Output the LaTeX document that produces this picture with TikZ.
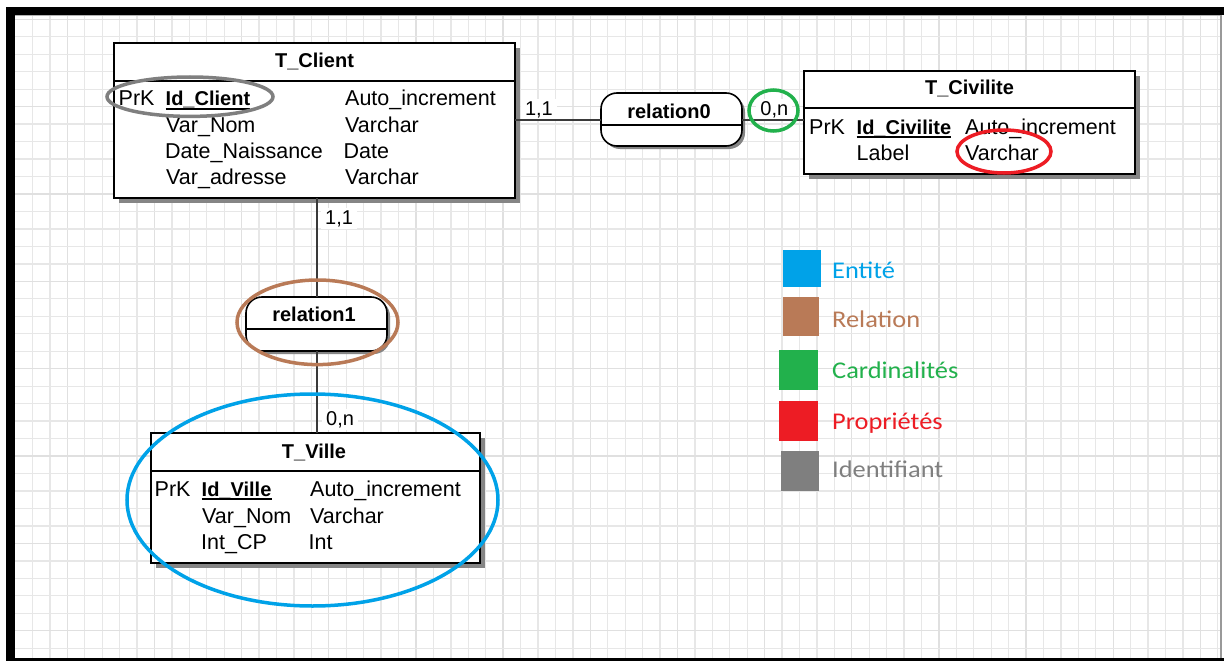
\documentclass[tikz,border=0pt]{standalone}
\usepackage{fontspec}
\setmainfont{Liberation Sans}
\newfontfamily\legendfont[FakeStretch=1.1]{Carlito}
\usetikzlibrary{shadows}

\definecolor{mcdblue}{HTML}{00A2E8}
\definecolor{mcdbrown}{HTML}{B97A57}
\definecolor{mcdgreen}{HTML}{22B14C}
\definecolor{mcdred}{HTML}{ED1C24}
\definecolor{mcdgray}{HTML}{7F7F7F}
\definecolor{gridlight}{HTML}{E7E7E7}
\definecolor{griddark}{HTML}{E0E0E0}
\definecolor{boxshadow}{HTML}{858585}
\definecolor{linkgray}{HTML}{3A3A3A}

\newcommand{\mcdattr}{\fontsize{21.5}{24}\selectfont}
\newcommand{\mcdbold}{\fontsize{20}{24}\selectfont\bfseries}
\newcommand{\mcdcard}{\fontsize{20}{24}\selectfont}
\newcommand{\mcdlegend}{\legendfont\fontsize{24}{28}\selectfont}

\tikzset{
  gridminor/.style={draw=gridlight, line width=1.3pt},
  gridmajor/.style={draw=griddark, line width=1.3pt},
  entitybox/.style={draw=black, line width=1.6pt, fill=white, inner sep=0pt, outer sep=0pt,
    general shadow={fill=boxshadow, shadow xshift=5pt, shadow yshift=-5pt}},
  relbox/.style={draw=black, line width=1.6pt, fill=white, rounded corners=16pt,
    inner sep=0pt, outer sep=0pt, minimum width=141pt, minimum height=53pt,
    general shadow={fill=boxshadow, shadow xshift=3pt, shadow yshift=-3pt}},
  sepline/.style={draw=black, line width=1.6pt},
  entitytitle/.style={inner sep=0pt, anchor=base, font=\mcdbold},
  attr/.style={inner sep=0pt, anchor=base west, font=\mcdattr},
  keyattr/.style={inner sep=0pt, anchor=base west, font=\mcdbold},
  uline/.style={draw=black, line width=1.8pt},
  card/.style={inner xsep=4pt, inner ysep=2pt, anchor=base west, fill=white, font=\mcdcard},
  link/.style={draw=linkgray, line width=2pt},
  hilite/.style={line width=3.5pt},
  legendtext/.style={inner sep=0pt, anchor=base west, font=\mcdlegend}
}

\begin{document}
\begin{tikzpicture}[x=1pt, y=-1pt]
\useasboundingbox (0,0) rectangle (1224,661);
\fill[white] (0,0) rectangle (1224,661);

% drawing-sheet grid
\foreach \k in {1,...,69}{
  \pgfmathsetmacro{\gx}{15.1+17.43*\k}
  \pgfmathtruncatemacro{\gm}{mod(\k,5)}
  \ifnum\gm=3
    \draw[gridmajor] (\gx,15) -- (\gx,658);
  \else
    \draw[gridminor] (\gx,15) -- (\gx,658);
  \fi
}
\foreach \k in {0,...,36}{
  \pgfmathsetmacro{\gy}{19.3+17.47*\k}
  \pgfmathtruncatemacro{\gm}{mod(\k,5)}
  \ifnum\gm=0
    \draw[gridmajor] (15,\gy) -- (1220,\gy);
  \else
    \draw[gridminor] (15,\gy) -- (1220,\gy);
  \fi
}

% window frame
\fill[black] (6,7) rectangle (1224,15);
\fill[black] (6,7) rectangle (15,661);
\fill[black] (6,658) rectangle (1224,661);
\draw[gray!60, line width=1pt] (15,15.8) -- (1220,15.8);
\draw[gray!80, line width=2pt] (1220.5,15) -- (1220.5,658);

% entities
\node[entitybox, minimum width=401pt, minimum height=155pt] (client) at (314.5,120.5) {};
\node[entitybox, minimum width=331pt, minimum height=103pt] (civilite) at (969.5,122.5) {};
\node[entitybox, minimum width=329pt, minimum height=130pt] (ville) at (315.5,498) {};

\draw[sepline] ([yshift=-38pt]client.north west) -- ([yshift=-38pt]client.north east);
\draw[sepline] ([yshift=-37pt]civilite.north west) -- ([yshift=-37pt]civilite.north east);
\draw[sepline] ([yshift=-38pt]ville.north west) -- ([yshift=-38pt]ville.north east);

\node[entitytitle] (clienttitle) at (314.5,67.5) {T\_Client};
\node[entitytitle] (civilitetitle) at (969.5,95) {T\_Civilite};
\node[entitytitle] (villetitle) at (314,458) {T\_Ville};

% T_Client attributes
\node[attr] (cpk) at (118.5,106) {PrK};
\node[keyattr] (cid) at (165.5,106) {Id\_Client};
\node[attr] (cidt) at (345,106) {Auto\_increment};
\node[attr] (cnom) at (166,132) {Var\_Nom};
\node[attr] (cnomt) at (345,132) {Varchar};
\node[attr] (cnais) at (165,158) {Date\_Naissance};
\node[attr] (cnaist) at (343.5,158) {Date};
\node[attr] (cadr) at (166,184) {Var\_adresse};
\node[attr] (cadrt) at (345,184) {Varchar};
\draw[uline] ([yshift=-2.7pt]cid.base west) -- ([yshift=-2.7pt]cid.base east);

% T_Civilite attributes
\node[attr] (vpk) at (809,134) {PrK};
\node[keyattr] (vid) at (856.5,134) {Id\_Civilite};
\node[attr] (vidt) at (965,134) {Auto\_increment};
\node[attr] (vlab) at (856.5,160) {Label};
\node[attr] (vlabt) at (965,160) {Varchar};
\draw[uline] ([yshift=-2.7pt]vid.base west) -- ([yshift=-2.7pt]vid.base east);

% T_Ville attributes
\node[attr] (tpk) at (154.5,496.5) {PrK};
\node[keyattr] (tid) at (201.5,496.5) {Id\_Ville};
\node[attr] (tidt) at (310,496.5) {Auto\_increment};
\node[attr] (tnom) at (202,523) {Var\_Nom};
\node[attr] (tnomt) at (310,523) {Varchar};
\node[attr] (tcp) at (201,549.5) {Int\_CP};
\node[attr] (tcpt) at (308.5,549.5) {Int};
\draw[uline] ([yshift=-2.7pt]tid.base west) -- ([yshift=-2.7pt]tid.base east);

% relations
\node[relbox] (rel0) at (671.5,119.5) {};
\node[relbox, minimum height=54pt] (rel1) at (316.5,324) {};
\draw[sepline] ([yshift=-32pt]rel0.north west) -- ([yshift=-32pt]rel0.north east);
\draw[sepline] ([yshift=-32pt]rel1.north west) -- ([yshift=-32pt]rel1.north east);
\node[entitytitle] (rel0name) at (669,118) {relation0};
\node[entitytitle] (rel1name) at (314,321.7) {relation1};

% cardinalities
\node[card] (card11a) at (520.8,115) {1,1};
\node[card] (card0na) at (756.2,115) {0,n};
\node[card] (card11b) at (321,224) {1,1};
\node[card] (card0nb) at (322,425) {0,n};

% links
\draw[link] (client.east |- rel0.west) -- (rel0.west);
\draw[link] (rel0.east) -- (rel0.east -| civilite.west);
\draw[link] (rel1.north) -- (rel1.north |- client.south);
\draw[link] (rel1.south) -- (rel1.south |- ville.north);

% highlight rings
\draw[hilite, draw=mcdgray] (190,96.7) ellipse [x radius=83pt, y radius=19.7pt];
\draw[hilite, draw=mcdred] (1004,151.5) ellipse [x radius=47pt, y radius=21.5pt];
\draw[hilite, draw=mcdgreen] (773.5,110.5) ellipse [x radius=24.5pt, y radius=20.5pt];
\draw[hilite, draw=mcdbrown] (317.5,322.3) ellipse [x radius=80.5pt, y radius=42.3pt];
\draw[hilite, draw=mcdblue] (312.5,500) ellipse [x radius=185.5pt, y radius=106pt];

% legend
\fill[mcdblue] (783,250) rectangle (821,287);
\fill[mcdbrown] (783,297) rectangle (819,336);
\fill[mcdgreen] (779,350) rectangle (818,390);
\fill[mcdred] (779,401) rectangle (818,441);
\fill[mcdgray] (781,451) rectangle (819,491);
\node[legendtext, text=mcdblue] (legent) at (832,278) {Entité};
\node[legendtext, text=mcdbrown] (legrel) at (832,327.5) {Relation};
\node[legendtext, text=mcdgreen] (legcard) at (832,378) {Cardinalités};
\node[legendtext, text=mcdred] (legprop) at (832,429) {Propriétés};
\node[legendtext, text=mcdgray] (legid) at (832,477) {Identifiant};
\end{tikzpicture}
\end{document}
